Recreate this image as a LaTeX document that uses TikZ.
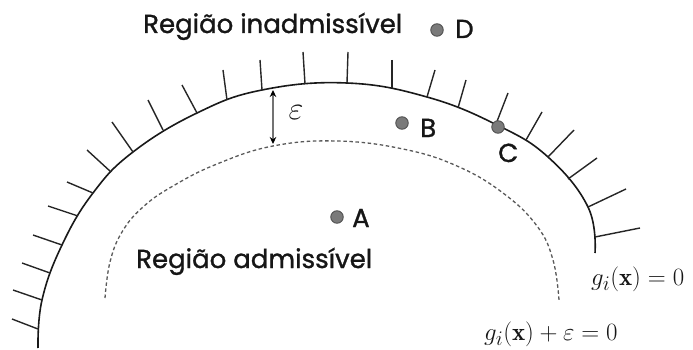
\documentclass[tikz,border=0pt]{standalone}
\usepackage{fontspec}
\newfontfamily\lblfont{Poppins}[FakeBold=1.2]
\usetikzlibrary{arrows.meta}
\definecolor{dotfill}{HTML}{7A7A7A}
\definecolor{dotline}{HTML}{505050}
\definecolor{txt}{HTML}{161616}
\begin{document}
\begin{tikzpicture}[x=1pt,y=-1pt,
  curveline/.style={line width=1.6pt, black!90},
  tickline/.style={line width=1.4pt, black!85},
  dashline/.style={line width=1.3pt, black!65, dash pattern=on 3.5pt off 2.6pt},
  pt/.style={circle, fill=dotfill, draw=dotline, line width=0.9pt, minimum size=12.5pt, inner sep=0pt},
  lbl/.style={font=\lblfont\fontsize{26}{30}\selectfont, text=txt, inner sep=0pt, anchor=base west},
  mlbl/.style={font=\fontsize{24.88}{30}\selectfont, text=txt, inner sep=0pt, anchor=base west}]
\useasboundingbox (0,0) rectangle (693,350);
% solid boundary
\draw[curveline] plot[smooth, tension=0.7] coordinates {
 (38,348) (42,300) (62,245) (93,193) (133,152) (197,113) (262,90) (347,83)
 (427,97) (497,125) (548,157) (588,207) (595,253)};
% ticks
\foreach \ax/\ay/\bx/\by in {
 12/319/38/329, 13/290/42/300, 22/263/50/273, 33/235/62/245, 48/206/78/216,
 67/182/93/193, 87/150/111/172, 112/122/133/152, 148/100/163/130, 182/85/197/113,
 223/70/227/100, 260/60/262/90, 303/52/305/84, 348/52/347/83, 392/60/392/88,
 435/70/427/97, 466/80/458/108, 508/93/496/124, 542/112/526/140, 574/130/548/157,
 597/158/568/179, 626/189/588/207, 640/228/595/237}
 \draw[tickline] (\ax,\ay) -- (\bx,\by);
% dashed boundary
\draw[dashline] plot[smooth, tension=0.7] coordinates {
 (105,298) (110,262) (122,232) (143,207) (173,186) (217,164) (273,146) (337,141)
 (403,149) (457,166) (503,193) (537,226) (553,260) (559,300)};
% epsilon arrow
\coordinate (eT) at (273,90);
\coordinate (eB) at (273,144);
\draw[line width=1.5pt, black!55, {Stealth[black, length=7pt, width=6.5pt]}-{Stealth[black, length=7pt, width=6.5pt]}] (eT) -- (eB);
\node[mlbl, anchor=center] (eps) at (296,113) {\scalebox{1.3}{$\varepsilon$}};
% texts
\node[lbl] (inad) at (143,33) {Região inadmissível};
\node[lbl] (adm) at (136,268) {Região admissível};
% points
\node[pt] (A) at (337,217) {};
\node[pt] (B) at (402,123) {};
\node[pt] (C) at (498,127) {};
\node[pt] (D) at (437,30) {};
\node[lbl] (Al) at (352,227) {A};
\node[lbl] (Bl) at (420,137) {B};
\node[lbl] (Cl) at (498,162) {C};
\node[lbl] (Dl) at (455,38) {D};
% equations
\node[mlbl] (g1) at (591,285) {$g_i(\mathbf{x}) = 0$};
\node[mlbl] (g2) at (484,340) {$g_i(\mathbf{x}) + \varepsilon = 0$};
\end{tikzpicture}
\end{document}
